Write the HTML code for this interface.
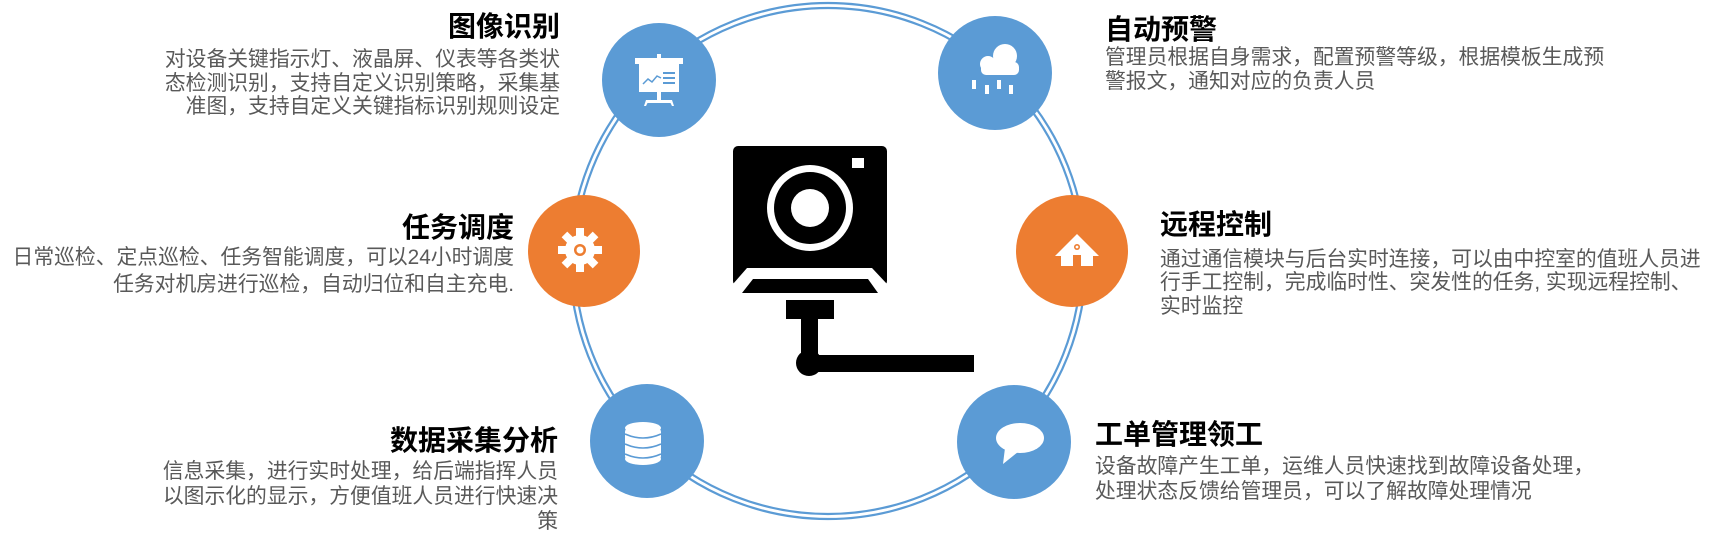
<!DOCTYPE html>
<html><head><meta charset="utf-8">
<style>
html,body{margin:0;padding:0;background:#fff;}
body{width:1712px;height:542px;position:relative;overflow:hidden;font-family:"Liberation Sans","Noto Sans CJK SC",sans-serif;}
.t{position:absolute;font-weight:bold;font-size:28px;line-height:32px;color:#000;white-space:nowrap;}
.b{position:absolute;font-size:20.8px;line-height:24px;color:#595959;white-space:nowrap;}
.r{text-align:right;}
svg{position:absolute;left:0;top:0;}
</style></head><body>
<svg width="1712" height="542" viewBox="0 0 1712 542">
  <circle cx="828" cy="261" r="258" fill="none" stroke="#5b9bd5" stroke-width="2.2"/>
  <circle cx="828" cy="261" r="253" fill="none" stroke="#5b9bd5" stroke-width="2.2"/>
  <!-- circles -->
  <circle cx="659" cy="80" r="57" fill="#5b9bd5"/>
  <circle cx="995" cy="73" r="57" fill="#5b9bd5"/>
  <circle cx="584" cy="251" r="56" fill="#ed7d31"/>
  <circle cx="1072" cy="251" r="56" fill="#ed7d31"/>
  <circle cx="647" cy="441" r="57" fill="#5b9bd5"/>
  <circle cx="1014" cy="442" r="57" fill="#5b9bd5"/>
  <!-- presentation icon -->
  <g fill="#fff">
    <rect x="635" y="58" width="48" height="6"/>
    <rect x="657" y="54" width="4" height="5"/>
    <rect x="639" y="64" width="40" height="28"/>
    <rect x="657" y="92" width="4" height="10"/>
    <rect x="646" y="100" width="26" height="3"/>
    <polygon points="646,100 649,100 646,106 644,106"/>
    <polygon points="669,100 672,100 674,106 672,106"/>
  </g>
  <polyline points="643,84 648,79 652,82 657,76 661,78" fill="none" stroke="#5b9bd5" stroke-width="1.5"/>
  <rect x="663" y="72" width="12" height="2" fill="#5b9bd5"/>
  <rect x="663" y="77" width="12" height="2" fill="#5b9bd5"/>
  <rect x="663" y="82" width="12" height="2" fill="#5b9bd5"/>
  <!-- cloud icon -->
  <g fill="#fff">
    <circle cx="1005" cy="56" r="12"/>
    <circle cx="988" cy="64" r="8"/>
    <rect x="981" y="62" width="38" height="13" rx="5"/>
    <rect x="972" y="80" width="4" height="9"/>
    <rect x="985" y="85" width="4" height="9"/>
    <rect x="997" y="80" width="4" height="9"/>
    <rect x="1009" y="85" width="4" height="9"/>
  </g>
  <!-- gear icon -->
  <g transform="translate(580,250)" fill="#fff">
    <circle r="15"/>
    <g>
      <rect x="-4" y="-22" width="8" height="10"/>
      <rect x="-4" y="12" width="8" height="10"/>
      <rect x="-22" y="-4" width="10" height="8"/>
      <rect x="12" y="-4" width="10" height="8"/>
      <g transform="rotate(45)">
        <rect x="-4" y="-22" width="8" height="10"/>
        <rect x="-4" y="12" width="8" height="10"/>
        <rect x="-22" y="-4" width="10" height="8"/>
        <rect x="12" y="-4" width="10" height="8"/>
      </g>
    </g>
    <circle r="6" fill="#ed7d31"/>
    <circle r="3.5" fill="#fff"/>
  </g>
  <!-- house icon -->
  <g fill="#fff">
    <polygon points="1055,256 1077,234 1099,256 1093,256 1093,266 1061,266 1061,256"/>
    <rect x="1073" y="255" width="8" height="11" fill="#ed7d31"/>
    <circle cx="1077" cy="247" r="3" fill="#ed7d31"/>
    <circle cx="1077" cy="247" r="1.4" fill="#fff"/>
  </g>
  <!-- database icon -->
  <g fill="#fff">
    <ellipse cx="643" cy="428" rx="18" ry="6"/>
    <rect x="625" y="428" width="36" height="32" rx="4"/>
    <ellipse cx="643" cy="459" rx="18" ry="6"/>
  </g>
  <path d="M625 434 Q643 442 661 434 M625 444 Q643 452 661 444 M625 454 Q643 462 661 454" fill="none" stroke="#5b9bd5" stroke-width="1.6"/>
  <!-- speech bubble -->
  <g fill="#fff">
    <ellipse cx="1020" cy="438" rx="24" ry="15"/>
    <polygon points="1005,448 1018,452 1003,464"/>
  </g>
  <!-- camera -->
  <rect x="733" y="146" width="154" height="140" rx="5" fill="#000"/>
  <polygon points="733,284 747,268 872,268 887,284 887,300 733,300" fill="#fff"/>
  <polygon points="753,279 868,279 878,293 742,293" fill="#000"/>
  <circle cx="810" cy="208" r="43" fill="#fff"/>
  <circle cx="810" cy="208" r="36" fill="#000"/>
  <circle cx="810" cy="208" r="19" fill="#fff"/>
  <rect x="852" y="158" width="12" height="10" fill="#fff"/>
  <rect x="786" y="300" width="48" height="19" fill="#000"/>
  <rect x="801" y="318" width="17" height="46" fill="#000"/>
  <circle cx="809" cy="363" r="13" fill="#000"/>
  <rect x="809" y="355" width="165" height="17" fill="#000"/>
</svg>

<!-- 图像识别 -->
<div class="t r" style="right:1152px;top:11px;">图像识别</div>
<div class="b r" style="right:1152px;top:48px;">对设备关键指示灯、液晶屏、仪表等各类状</div>
<div class="b r" style="right:1152px;top:72px;">态检测识别，支持自定义识别策略，采集基</div>
<div class="b r" style="right:1152px;top:95px;">准图，支持自定义关键指标识别规则设定</div>

<!-- 任务调度 -->
<div class="t r" style="right:1198px;top:212px;">任务调度</div>
<div class="b r" style="right:1198px;top:246px;">日常巡检、定点巡检、任务智能调度，可以24小时调度</div>
<div class="b r" style="right:1198px;top:273px;">任务对机房进行巡检，自动归位和自主充电.</div>

<!-- 数据采集分析 -->
<div class="t r" style="right:1154px;top:425px;">数据采集分析</div>
<div class="b r" style="right:1154px;top:460px;">信息采集，进行实时处理，给后端指挥人员</div>
<div class="b r" style="right:1154px;top:485px;">以图示化的显示，方便值班人员进行快速决</div>
<div class="b r" style="right:1154px;top:510px;">策</div>

<!-- 自动预警 -->
<div class="t" style="left:1105px;top:14px;">自动预警</div>
<div class="b" style="left:1105px;top:46px;">管理员根据自身需求，配置预警等级，根据模板生成预</div>
<div class="b" style="left:1105px;top:70px;">警报文，通知对应的负责人员</div>

<!-- 远程控制 -->
<div class="t" style="left:1160px;top:209px;">远程控制</div>
<div class="b" style="left:1160px;top:248px;">通过通信模块与后台实时连接，可以由中控室的值班人员进</div>
<div class="b" style="left:1160px;top:271px;">行手工控制，完成临时性、突发性的任务, 实现远程控制、</div>
<div class="b" style="left:1160px;top:295px;">实时监控</div>

<!-- 工单管理领工 -->
<div class="t" style="left:1095px;top:419px;">工单管理领工</div>
<div class="b" style="left:1095px;top:455px;">设备故障产生工单，运维人员快速找到故障设备处理，</div>
<div class="b" style="left:1095px;top:480px;">处理状态反馈给管理员，可以了解故障处理情况</div>
</body></html>
